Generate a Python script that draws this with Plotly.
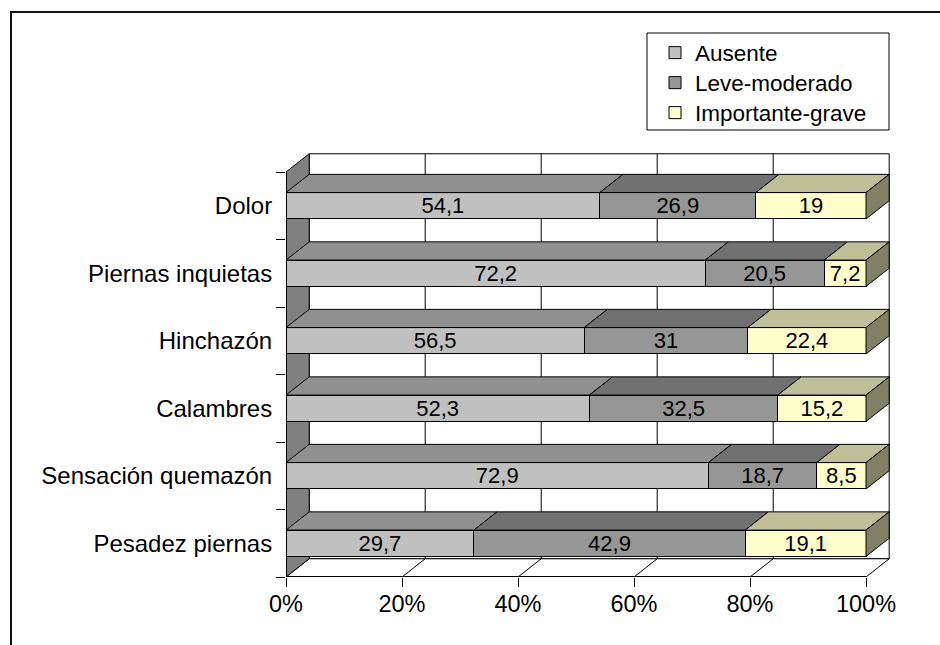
import plotly.graph_objects as go

# ---- data -------------------------------------------------------------
categories = ["Dolor", "Piernas inquietas", "Hinchazón", "Calambres",
              "Sensación quemazón", "Pesadez piernas"]
ausente = [54.1, 72.2, 56.5, 52.3, 72.9, 29.7]
leve_moderado = [26.9, 20.5, 31, 32.5, 18.7, 42.9]
importante_grave = [19, 7.2, 22.4, 15.2, 8.5, 19.1]
series_names = ["Ausente", "Leve-moderado", "Importante-grave"]
x_tick_values = [0, 20, 40, 60, 80, 100]
x_tick_labels = ["0%", "20%", "40%", "60%", "80%", "100%"]

# ---- styling ----------------------------------------------------------
FONT = "Liberation Sans, Arial, sans-serif"
FRONT = ["#C0C0C0", "#969696", "#FFFFCC"]
TOP = ["#909090", "#717171", "#BFBF99"]
SIDE = ["#606060", "#4B4B4B", "#808066"]
WALL = "#808080"
BAR_W = 0.39          # bar thickness in category units
DX, DY = 4.0, 0.27    # depth offset of the pseudo-3D box (x units, category units)

W, H = 940, 645
ML, MR, MT, MB = 286, 49, 152, 68
PX_PER_X = 5.8        # pixels per percent
PX_PER_Y = 67.5       # pixels per category
xmax = (W - ML - MR) / PX_PER_X
ymax = -0.5 + (H - MT - MB) / PX_PER_Y
plot_w, plot_h = W - ML - MR, H - MT - MB


def px_x(px):
    """page pixel column -> paper x"""
    return (px - ML) / plot_w


def px_y(py):
    """page pixel row -> paper y"""
    return (H - MB - py) / plot_h


n = len(categories)
ypos = [n - 1 - i for i in range(n)]
series = [ausente, leve_moderado, importante_grave]
legend_ids = ["legend", "legend2", "legend3"]
legend_rows = [53, 83, 113]   # pixel rows of the legend entries


def fmt(v):
    return f"{v:g}".replace(".", ",")


fig = go.Figure()
for name, vals, col, lg in zip(series_names, series, FRONT, legend_ids):
    fig.add_trace(go.Bar(
        y=ypos, x=vals, orientation="h", name=name, legend=lg,
        width=BAR_W,
        marker=dict(color=col, line=dict(color="black", width=1)),
        text=[fmt(v) for v in vals],
        textposition="inside", insidetextanchor="middle",
        textangle=0, constraintext="none",
        textfont=dict(family=FONT, size=22, color="black"),
        hoverinfo="skip",
    ))

shapes = []
y_lo, y_hi = -0.5, n - 0.5

# back wall with vertical gridlines
shapes.append(dict(type="rect", xref="x", yref="y", layer="below",
                   x0=DX, x1=100 + DX, y0=y_lo + DY, y1=y_hi + DY,
                   fillcolor="white", line=dict(color="black", width=1)))
for t in x_tick_values[1:-1]:
    shapes.append(dict(type="line", xref="x", yref="y", layer="below",
                       x0=t + DX, x1=t + DX, y0=y_lo + DY, y1=y_hi + DY,
                       line=dict(color="black", width=1)))

# floor
shapes.append(dict(type="path", xref="x", yref="y", layer="below",
                   path=f"M0,{y_lo} L100,{y_lo} L{100 + DX},{y_lo + DY} L{DX},{y_lo + DY} Z",
                   fillcolor="white", line=dict(color="black", width=1)))
for t in x_tick_values[1:-1]:
    shapes.append(dict(type="line", xref="x", yref="y", layer="below",
                       x0=t, x1=t + DX, y0=y_lo, y1=y_lo + DY,
                       line=dict(color="black", width=1)))
shapes.append(dict(type="line", xref="x", yref="y", layer="below",
                   x0=0, x1=100, y0=y_lo, y1=y_lo,
                   line=dict(color="black", width=2)))

# left side wall
shapes.append(dict(type="path", xref="x", yref="y", layer="below",
                   path=f"M0,{y_lo} L0,{y_hi} L{DX},{y_hi + DY} L{DX},{y_lo + DY} Z",
                   fillcolor=WALL, line=dict(color="black", width=1)))
shapes.append(dict(type="line", xref="x", yref="y", layer="below",
                   x0=0, x1=0, y0=y_lo, y1=y_hi,
                   line=dict(color="black", width=2)))

# top faces of every segment and the right face of each bar
for r in range(n):
    total = sum(s[r] for s in series)
    yc = ypos[r]
    yt, yb = yc + BAR_W / 2, yc - BAR_W / 2
    x0 = 0.0
    for k, s in enumerate(series):
        x1 = x0 + s[r] / total * 100
        shapes.append(dict(
            type="path", xref="x", yref="y", layer="above",
            path=f"M{x0},{yt} L{x1},{yt} L{x1 + DX},{yt + DY} L{x0 + DX},{yt + DY} Z",
            fillcolor=TOP[k], line=dict(color="black", width=1)))
        x0 = x1
    shapes.append(dict(
        type="path", xref="x", yref="y", layer="above",
        path=f"M{x0},{yb} L{x0},{yt} L{x0 + DX},{yt + DY} L{x0 + DX},{yb + DY} Z",
        fillcolor=SIDE[-1], line=dict(color="black", width=1)))

# legend box
shapes.append(dict(type="rect", xref="paper", yref="paper", layer="above",
                   x0=px_x(647), x1=px_x(889), y0=px_y(130), y1=px_y(33),
                   fillcolor="white", line=dict(color="black", width=1)))

# outer chart frame (runs past the right and bottom edges of the page)
shapes.append(dict(type="rect", xref="paper", yref="paper", layer="above",
                   x0=px_x(11), x1=px_x(W + 20), y0=px_y(H + 20), y1=px_y(12),
                   line=dict(color="#111111", width=2), fillcolor="rgba(0,0,0,0)"))

legend_common = dict(
    xanchor="left", yanchor="middle",
    borderwidth=0, bgcolor="rgba(0,0,0,0)",
    font=dict(family=FONT, size=22.5, color="black"),
    itemwidth=30,
)
legend_layout = {
    lg: dict(legend_common, x=px_x(655), y=px_y(row))
    for lg, row in zip(legend_ids, legend_rows)
}

fig.update_layout(
    width=W, height=H,
    margin=dict(l=ML, r=MR, t=MT, b=MB, pad=0),
    paper_bgcolor="white", plot_bgcolor="rgba(0,0,0,0)",
    barmode="stack", barnorm="percent",
    font=dict(family=FONT, size=22, color="black"),
    shapes=shapes,
    showlegend=True,
    xaxis=dict(
        range=[0, xmax], tickmode="array",
        tickvals=x_tick_values, ticktext=x_tick_labels,
        ticks="outside", ticklen=9, tickcolor="black", tickwidth=1,
        ticklabelstandoff=-3,
        showgrid=False, zeroline=False, showline=False,
        tickfont=dict(family=FONT, size=23.5, color="black"),
    ),
    yaxis=dict(
        range=[-0.5, ymax], tickmode="array",
        tickvals=ypos, ticktext=categories,
        ticks="outside", ticklen=8, tickcolor="rgba(0,0,0,0)",
        minor=dict(tickmode="array", tickvals=[k - 0.5 for k in range(n + 1)],
                   ticks="outside", ticklen=9, tickcolor="black", tickwidth=1,
                   showgrid=False),
        showgrid=False, zeroline=False, showline=False,
        tickfont=dict(family=FONT, size=24, color="black"),
    ),
    **legend_layout,
)

fig.write_html("out.html")
